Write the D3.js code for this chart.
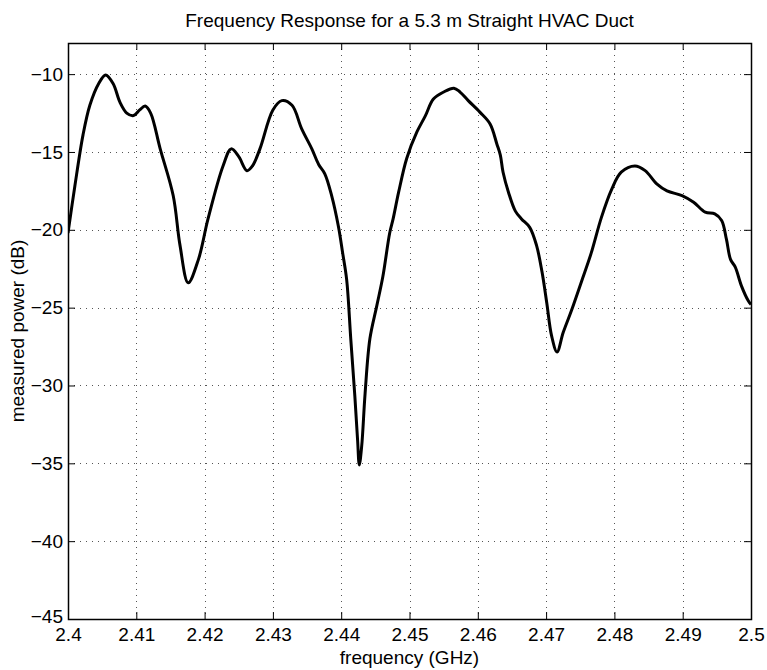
<!DOCTYPE html>
<html>
<head>
<meta charset="utf-8">
<script src="https://cdn.jsdelivr.net/npm/d3@7"></script>
<style>
  body { margin: 0; background: #fff; }
  #chart { width: 767px; height: 670px; }
  text { font-family: "Liberation Sans", Arial, Helvetica, sans-serif; fill: #000; }
</style>
</head>
<body>
<div id="chart"></div>
<script>
// frequency (GHz) and measured power (dB)
const freq = [
  2.4000, 2.4010, 2.4022, 2.4032, 2.4045, 2.4055, 2.4066, 2.4076, 2.4086, 2.4096,
  2.4105, 2.4113, 2.4121, 2.4135, 2.4154, 2.4164, 2.4176, 2.4191, 2.4205, 2.4227,
  2.4239, 2.4250, 2.4262, 2.4270, 2.4281, 2.4300, 2.4313, 2.4328, 2.4342, 2.4357,
  2.4367, 2.4376, 2.4386, 2.4396, 2.4402, 2.4408, 2.4414, 2.4420, 2.4424, 2.44265,
  2.4430, 2.4435, 2.4442, 2.4452, 2.4461, 2.4471, 2.4476, 2.4484, 2.4496, 2.4511,
  2.4523, 2.4535, 2.4550, 2.4565, 2.4574, 2.4586, 2.4603, 2.4618, 2.4628, 2.4633,
  2.4637, 2.4645, 2.4655, 2.4664, 2.4676, 2.4686, 2.4694, 2.4701, 2.4708, 2.4716,
  2.4725, 2.4737, 2.4752, 2.4766, 2.4781, 2.4796, 2.4810, 2.4830, 2.4845, 2.4862,
  2.4877, 2.4899, 2.4916, 2.4933, 2.4947, 2.4957, 2.4964, 2.4970, 2.4977, 2.4986,
  2.4996, 2.5000
];
const power = [
  -20.2, -17.2, -13.9, -12.0, -10.6, -10.05, -10.6, -11.8, -12.5, -12.66,
  -12.3, -12.05, -12.5, -14.8, -17.8, -21.0, -23.4, -21.9, -19.3, -15.9,
  -14.8, -15.3, -16.2, -15.9, -14.8, -12.3, -11.7, -12.0, -13.5, -14.8,
  -15.8, -16.4, -17.8, -19.8, -21.45, -23.2, -27.0, -30.7, -33.5, -35.1,
  -33.9, -30.5, -27.0, -24.9, -23.0, -20.2, -19.3, -17.6, -15.4, -13.7,
  -12.7, -11.6, -11.15, -10.9, -11.15, -11.7, -12.44, -13.2, -14.5, -15.2,
  -16.3, -17.6, -18.8, -19.3, -19.84, -21.0, -22.7, -24.7, -26.8, -27.85,
  -26.6, -25.2, -23.3, -21.5, -19.2, -17.4, -16.3, -15.9, -16.2, -17.05,
  -17.5, -17.8, -18.23, -18.87, -18.98, -19.4, -20.6, -21.9, -22.4, -23.6,
  -24.56, -24.8
];

const xTicks = [2.4, 2.41, 2.42, 2.43, 2.44, 2.45, 2.46, 2.47, 2.48, 2.49, 2.5];
const xTickLabels = ["2.4", "2.41", "2.42", "2.43", "2.44", "2.45", "2.46", "2.47", "2.48", "2.49", "2.5"];
const yTicks = [-45, -40, -35, -30, -25, -20, -15, -10];
const yTickLabels = ["\u221245", "\u221240", "\u221235", "\u221230", "\u221225", "\u221220", "\u221215", "\u221210"];
const xDomain = [2.4, 2.5];
const yDomain = [-45, -8];

const titleText = "Frequency Response for a 5.3 m Straight HVAC Duct";
const xLabel = "frequency (GHz)";
const yLabel = "measured power (dB)";

const width = 767;
const height = 670;
const margin = { top: 43, right: 16, bottom: 51, left: 68 };
const innerW = width - margin.left - margin.right;
const innerH = height - margin.top - margin.bottom;
const tickLen = 7;
const fontSize = 19;

const svg = d3.select('#chart')
  .append("svg")
  .attr('width', width)
  .attr('height', height)
  .attr('viewBox', [0, 0, width, height]);

const x = d3.scaleLinear().domain(xDomain).range([0, innerW]);
const y = d3.scaleLinear().domain(yDomain).range([innerH, 0]);

const g = svg.append("g")
  .attr('transform', `translate(${margin.left},${margin.top})`);

// dotted grid
g.append("g")
  .selectAll("line")
  .data(xTicks.slice(1, -1))
  .join("line")
  .attr("x1", d => Math.round(x(d)) + 0.5)
  .attr("x2", d => Math.round(x(d)) + 0.5)
  .attr("y1", 0)
  .attr("y2", innerH)
  .attr("stroke", "#555")
  .attr("stroke-dasharray", "1,5");

g.append("g")
  .selectAll("line")
  .data(yTicks.slice(1))
  .join("line")
  .attr("x1", 0)
  .attr("x2", innerW)
  .attr("y1", d => Math.round(y(d)) + 0.5)
  .attr("y2", d => Math.round(y(d)) + 0.5)
  .attr("stroke", "#555")
  .attr("stroke-dasharray", "1,5");

// axes, ticks pointing inward on all four sides
const axisBottom = d3.axisBottom(x).tickValues(xTicks).tickSizeInner(-tickLen).tickSizeOuter(0)
  .tickFormat((d, i) => xTickLabels[i]);
const axisTop = d3.axisTop(x).tickValues(xTicks).tickSizeInner(-tickLen).tickSizeOuter(0).tickFormat("");
const axisLeft = d3.axisLeft(y).tickValues(yTicks).tickSizeInner(-tickLen).tickSizeOuter(0)
  .tickFormat((d, i) => yTickLabels[i]);
const axisRight = d3.axisRight(y).tickValues(yTicks).tickSizeInner(-tickLen).tickSizeOuter(0).tickFormat("");

const bx = g.append("g").attr('transform', `translate(0,${innerH})`).call(axisBottom);
g.append("g").call(axisTop);
const ly = g.append("g").call(axisLeft);
g.append("g").attr('transform', `translate(${innerW},0)`).call(axisRight);

g.selectAll(".domain").remove();
g.selectAll(".tick line").attr("stroke", "#000").attr("stroke-width", 1);

bx.selectAll("text")
  .attr("y", 9)
  .attr("dy", "0.71em")
  .style("font-size", `${fontSize}px`);

// the bottom-most label sits a touch higher, as in the reference
ly.selectAll("text")
  .attr("x", -5)
  .attr("dy", (d, i) => i === 0 ? "0.2em" : "0.32em")
  .style("font-size", `${fontSize}px`);

// box
g.append("rect")
  .attr("x", 0.5)
  .attr("y", 0.5)
  .attr("width", innerW)
  .attr("height", innerH)
  .attr("fill", "none")
  .attr("stroke", "#000")
  .attr("stroke-width", 1.5);

// trace
const data = freq.map((f, i) => ({ f: f, p: power[i] }));

g.append("clipPath")
  .attr("id", "plotClip")
  .append("rect")
  .attr("width", innerW)
  .attr("height", innerH);

const line = d3.line()
  .x(d => x(d.f))
  .y(d => y(d.p))
  .curve(d3.curveCatmullRom.alpha(0.5));

g.append("path")
  .datum(data)
  .attr("clip-path", "url(#plotClip)")
  .attr("fill", "none")
  .attr("stroke", "#000")
  .attr("stroke-width", 3)
  .attr("stroke-linejoin", "round")
  .attr("d", line);

// labels
svg.append("text")
  .attr("x", margin.left + innerW / 2)
  .attr("y", 27)
  .attr("text-anchor", "middle")
  .style("font-size", `${fontSize}px`)
  .text(titleText);

svg.append("text")
  .attr("x", margin.left + innerW / 2)
  .attr("y", 664)
  .attr("text-anchor", "middle")
  .style("font-size", `${fontSize}px`)
  .text(xLabel);

svg.append("text")
  .attr("transform", `translate(24,${margin.top + innerH / 2}) rotate(-90)`)
  .attr("text-anchor", "middle")
  .style("font-size", `${fontSize}px`)
  .text(yLabel);
</script>
</body>
</html>
